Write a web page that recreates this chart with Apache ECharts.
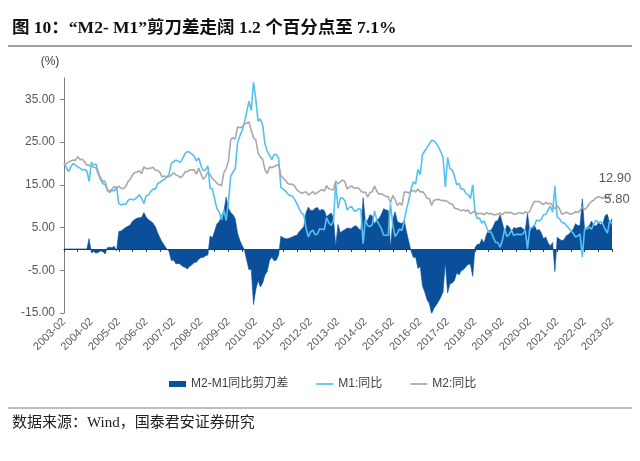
<!DOCTYPE html>
<html><head><meta charset="utf-8">
<script src="https://cdn.jsdelivr.net/npm/echarts@6/dist/echarts.min.js"></script>
<style>html,body{margin:0;padding:0;background:#fff}#c{width:640px;height:461px}</style>
</head><body><div id="c"></div>
<script>
// categories: monthly from 2003-02 to 2023-02
const months = [];
for (let y = 2003; y <= 2023; y++) {
  for (let m = 1; m <= 12; m++) {
    if (y === 2003 && m < 2) continue;
    if (y === 2023 && m > 2) break;
    months.push(y + '-' + String(m).padStart(2, '0'));
  }
}

// M1 YoY (%)
const m1 = [
  20.0, 19.0, 18.1, 19.2, 20.0, 19.6, 19.2, 18.9, 18.5, 18.6, 18.3,
  15.8, 20.3, 19.6, 19.9, 17.9, 16.6, 15.8, 15.8, 13.7, 13.2, 13.7, 13.6,
  14.6, 10.6, 10.3, 10.5, 10.4, 11.3, 11.7, 11.5, 11.6, 12.1, 12.7, 11.8,
  10.6, 12.5, 12.6, 13.5, 14.0, 14.0, 15.3, 15.6, 16.0, 16.3, 16.8, 17.5,
  20.0, 20.4, 20.8, 20.5, 20.3, 21.2, 22.3, 22.8, 22.6, 22.2, 21.7, 20.6,
  21.3, 19.5, 18.3, 18.5, 19.4, 14.2, 14.0, 11.6, 9.4, 8.6, 6.8, 9.1,
  6.7, 10.9, 17.0, 18.0, 18.7, 24.8, 26.4, 27.7, 29.5, 32.0, 34.6, 32.4,
  39.0, 35.0, 29.9, 30.4, 29.0, 24.6, 22.9, 21.9, 20.9, 22.1, 22.1, 21.2,
  14.3, 14.0, 13.6, 12.9, 12.5, 12.4, 11.6, 10.6, 9.4, 8.4, 8.0, 4.9,
  2.8, 4.0, 4.4, 3.3, 3.5, 4.7, 4.6, 4.5, 7.3, 6.1, 5.5, 6.5,
  15.3, 9.5, 11.9, 11.9, 11.3, 9.1, 9.7, 9.9, 8.9, 8.9, 9.4, 9.3,
  1.2, 6.9, 5.4, 5.2, 5.7, 8.9, 6.7, 5.7, 4.8, 3.2, 3.2, 3.2,
  10.6, 5.6, 2.9, 3.7, 4.7, 4.3, 6.6, 9.3, 11.4, 14.0, 15.7, 15.2,
  18.6, 17.4, 22.1, 22.9, 23.7, 24.6, 25.4, 25.3, 24.7, 23.9, 22.7, 21.4,
  14.5, 21.4, 18.8, 18.5, 17.0, 15.0, 15.3, 14.0, 14.0, 13.0, 12.7, 11.8,
  15.0, 8.5, 7.1, 7.2, 6.0, 6.6, 5.1, 3.9, 4.0, 2.7, 1.5, 1.5,
  0.4, 2.0, 4.6, 2.9, 3.4, 4.4, 3.1, 3.4, 3.4, 3.3, 3.5, 4.4,
  0.0, 4.8, 5.0, 5.5, 6.8, 6.5, 6.9, 8.0, 8.1, 9.1, 10.0, 8.6,
  14.7, 7.4, 7.1, 6.2, 6.1, 5.5, 4.9, 4.2, 3.7, 2.8, 3.0, 3.5,
  -1.9, 4.7, 4.7, 5.1, 4.6, 5.8, 6.7, 6.1, 6.4, 5.8, 4.6, 3.7,
  6.7, 5.8
];

// M2 YoY (%)
const m2 = [
  19.6, 19.9, 20.3, 20.6, 20.8, 20.7, 21.6, 20.9, 21.0, 20.4, 19.6,
  19.6, 19.4, 19.1, 19.0, 17.5, 16.2, 15.3, 15.0, 13.9, 13.5, 14.0, 14.6,
  14.1, 14.7, 14.2, 14.1, 14.6, 15.7, 16.3, 17.3, 17.9, 18.0, 18.3, 17.6,
  19.2, 18.8, 18.8, 18.9, 19.1, 18.4, 18.4, 17.9, 16.8, 17.1, 16.8, 16.9,
  17.3, 17.8, 17.3, 17.1, 16.7, 17.1, 18.0, 18.1, 18.5, 18.5, 18.5, 17.5,
  18.9, 17.5, 16.3, 16.9, 18.0, 17.4, 16.4, 16.0, 15.3, 15.0, 14.8, 17.8,
  18.8, 20.5, 25.5, 26.0, 25.7, 28.5, 28.4, 28.5, 29.3, 29.4, 29.7, 27.7,
  26.0, 25.5, 22.5, 21.5, 21.0, 18.5, 17.6, 19.2, 19.0, 19.3, 19.5, 19.7,
  17.2, 16.6, 16.0, 15.3, 15.1, 15.2, 14.7, 13.8, 13.4, 13.0, 13.2, 13.4,
  12.6, 13.0, 13.4, 12.8, 13.2, 13.6, 13.9, 13.5, 14.8, 14.1, 13.9, 13.8,
  15.9, 15.2, 15.7, 16.1, 15.8, 14.0, 14.5, 14.7, 14.2, 14.3, 14.2, 13.6,
  13.2, 13.3, 12.1, 13.2, 13.4, 14.7, 13.5, 12.8, 12.9, 12.6, 12.3, 12.2,
  10.8, 12.5, 11.6, 10.1, 10.8, 10.2, 13.3, 13.3, 13.1, 13.5, 13.7, 13.3,
  14.0, 13.3, 13.4, 12.8, 11.8, 11.8, 10.2, 11.4, 11.5, 11.6, 11.4, 11.3,
  11.3, 11.1, 10.6, 10.5, 9.6, 9.4, 9.2, 8.9, 9.2, 8.8, 9.1, 8.2,
  8.6, 8.8, 8.2, 8.3, 8.3, 8.0, 8.5, 8.2, 8.3, 8.0, 8.0, 8.1,
  8.4, 8.0, 8.6, 8.5, 8.5, 8.5, 8.1, 8.2, 8.4, 8.4, 8.2, 8.7,
  8.4, 8.8, 10.1, 11.1, 11.1, 11.1, 10.7, 10.4, 10.9, 10.5, 10.7, 10.1,
  9.4, 10.1, 9.4, 8.1, 8.3, 8.6, 8.3, 8.2, 8.3, 8.7, 8.5, 9.0,
  9.8, 9.2, 9.7, 10.5, 11.1, 11.4, 12.0, 12.2, 12.1, 11.8, 12.4, 11.8,
  12.6, 12.9
];

// M2-M1 scissors gap (%)
const spread = [
  0, 0, 0, 0, 0, 0, 0, 0, 0, 0, 0,
  2.4, -0.9, -0.6, -1.0, -0.8, -0.5, -0.6, -1.2, 0.3, 0.4, 0.3, 0.6,
  -0.5, 4.1, 4.2, 4.6, 5.0, 5.3, 5.6, 6.5, 6.9, 7.2, 7.3, 7.4,
  8.5, 7.4, 6.8, 6.5, 6.0, 5.2, 3.8, 2.6, 1.6, 0.8, 0.0, -0.6,
  -2.7, -2.6, -3.5, -3.4, -3.6, -4.1, -4.3, -4.7, -4.1, -3.7, -3.2, -3.1,
  -2.4, -2.0, -2.0, -1.6, -1.4, 3.0, 2.6, 4.2, 5.9, 6.4, 7.8, 8.7,
  12.1, 9.6, 8.5, 8.0, 7.0, 3.7, 2.0, 0.8, -0.2, -2.6, -4.9, -4.7,
  -13.0, -9.5, -7.4, -8.9, -8.0, -6.1, -5.3, -2.7, -1.9, -2.8, -2.6, -1.5,
  3.0, 2.6, 2.4, 2.4, 2.6, 2.8, 3.1, 3.2, 4.0, 4.6, 5.2, 8.5,
  9.8, 9.0, 9.0, 9.5, 9.7, 8.9, 9.3, 9.0, 7.5, 8.0, 8.4, 7.3,
  0.6, 5.7, 3.8, 4.2, 4.5, 4.9, 4.8, 4.8, 5.3, 5.4, 4.8, 4.3,
  12.0, 6.4, 6.7, 8.0, 7.7, 5.8, 6.8, 7.1, 8.1, 9.4, 9.1, 9.0,
  0.2, 6.9, 8.7, 6.4, 6.1, 5.9, 6.7, 4.0, 1.7, -0.5, -2.0, -1.9,
  -4.6, -4.1, -8.7, -10.1, -11.9, -12.8, -15.2, -13.9, -13.2, -12.3, -11.3, -10.1,
  -3.2, -10.3, -8.2, -8.0, -7.4, -5.6, -6.1, -5.1, -4.8, -4.2, -3.6, -3.6,
  -6.4, 0.3, 1.1, 1.1, 2.3, 1.4, 3.4, 4.3, 4.3, 5.3, 6.5, 6.6,
  8.0, 6.0, 4.0, 5.6, 5.1, 4.1, 5.0, 4.8, 5.0, 5.1, 4.7, 4.3,
  8.4, 4.0, 5.1, 5.6, 4.3, 4.6, 3.8, 2.4, 2.8, 1.4, 0.7, 1.5,
  -5.3, 2.7, 2.3, 1.9, 2.2, 3.1, 3.4, 4.0, 4.6, 5.9, 5.5, 5.5,
  11.7, 4.5, 5.0, 5.4, 6.5, 5.6, 5.3, 6.1, 5.7, 6.0, 7.8, 8.1,
  5.9, 7.1
];

// y-axis tick labels
const yTicks = [-15, -5, 5, 15, 25, 35];

const seriesNames = ['M2-M1同比剪刀差', 'M1:同比', 'M2:同比'];
const sans = '"Liberation Sans", "Noto Sans CJK SC", sans-serif';
const lineIcon = 'path://M0,0L20,0L20,2L0,2Z';

const chart = echarts.init(document.getElementById('c'), null, {renderer: 'canvas'});
chart.setOption({
  animation: false,
  backgroundColor: '#fff',
  grid: {left: 64, right: 28, top: 78, bottom: 148},
  legend: {
    left: 164, top: 373, itemWidth: 17, itemHeight: 6, itemGap: 28,
    textStyle: {fontSize: 12, color: '#404040', fontFamily: sans},
    data: [
      {name: seriesNames[0], icon: 'rect'},
      {name: seriesNames[1], icon: lineIcon},
      {name: seriesNames[2], icon: lineIcon}
    ]
  },
  xAxis: [
    {
      type: 'category', data: months, boundaryGap: false, position: 'bottom',
      axisLine: {onZero: true, lineStyle: {color: '#333', width: 1}},
      axisTick: {show: true, interval: 5, length: 3, lineStyle: {color: '#333'}},
      axisLabel: {show: false}, splitLine: {show: false}
    },
    {
      type: 'category', data: months, boundaryGap: false, position: 'bottom',
      axisLine: {show: false, onZero: false}, axisTick: {show: false},
      axisLabel: {interval: 11, rotate: 45, fontSize: 11, color: '#595959', margin: 7, fontFamily: sans},
      splitLine: {show: false}
    }
  ],
  yAxis: {
    type: 'value', min: -15, max: 40,
    axisLine: {show: true, lineStyle: {color: '#7f7f7f'}},
    axisTick: {show: true, customValues: yTicks, length: 4, lineStyle: {color: '#7f7f7f'}},
    axisLabel: {customValues: yTicks, formatter: v => v.toFixed(2), color: '#595959', fontSize: 12, margin: 9, fontFamily: sans},
    splitLine: {show: false}
  },
  series: [
    {
      name: seriesNames[0], type: 'line', data: spread, xAxisIndex: 0,
      symbol: 'none', color: '#0B4F9A',
      lineStyle: {width: 0.6, color: '#0B4F9A'},
      areaStyle: {color: '#0B4F9A', opacity: 1}
    },
    {
      name: seriesNames[1], type: 'line', data: m1, xAxisIndex: 0,
      symbol: 'none', color: '#53C2F0',
      lineStyle: {width: 1.6, color: '#53C2F0'},
      endLabel: {show: true, formatter: p => Number(p.value).toFixed(2), align: 'center', verticalAlign: 'bottom',
        offset: [-3, -18], color: '#595959', fontSize: 13, fontFamily: sans}
    },
    {
      name: seriesNames[2], type: 'line', data: m2, xAxisIndex: 0,
      symbol: 'none', color: '#A9A9A9',
      lineStyle: {width: 1.6, color: '#A9A9A9'},
      endLabel: {show: true, formatter: p => Number(p.value).toFixed(2), align: 'center', verticalAlign: 'bottom',
        offset: [-5, -9], color: '#595959', fontSize: 13, fontFamily: sans}
    }
  ],
  graphic: [
    {type: 'text', x: 12, y: 28, style: {text: '图 10：“M2- M1”剪刀差走阔 1.2 个百分点至 7.1%', verticalAlign: 'middle',
      font: 'bold 17.5px "Liberation Serif", "Noto Sans CJK SC", serif', fill: '#111'}},
    {type: 'line', shape: {x1: 8, y1: 46, x2: 632, y2: 46}, style: {stroke: '#7f7f7f', lineWidth: 1.5}},
    {type: 'text', x: 50, y: 62, style: {text: '(%)', align: 'center', verticalAlign: 'middle',
      font: '12px ' + sans, fill: '#404040'}},
    {type: 'line', shape: {x1: 8, y1: 408, x2: 632, y2: 408}, style: {stroke: '#7f7f7f', lineWidth: 1}},
    {type: 'text', x: 12, y: 423, style: {text: '数据来源：Wind，国泰君安证券研究', verticalAlign: 'middle',
      font: '15px "Liberation Serif", "Noto Sans CJK SC", serif', fill: '#222'}}
  ]
});
</script>
</body></html>
